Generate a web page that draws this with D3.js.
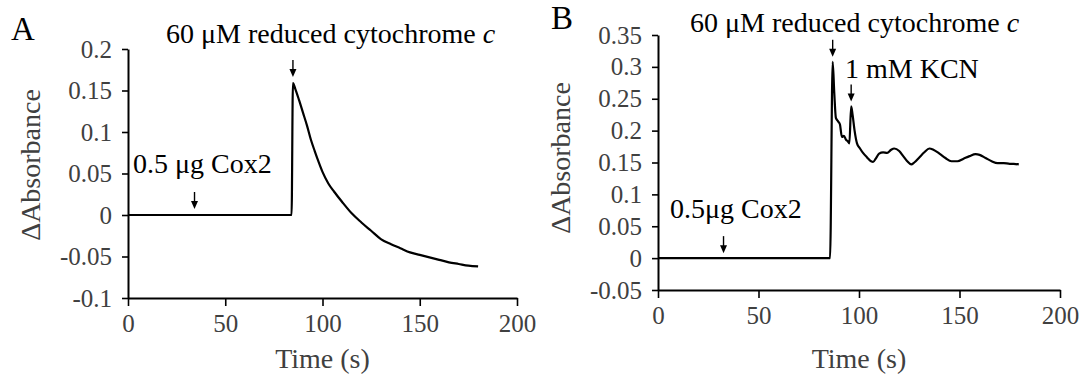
<!DOCTYPE html>
<html>
<head>
<meta charset="utf-8">
<script src="https://cdn.jsdelivr.net/npm/d3@7"></script>
<style>
  body { margin: 0; background: #fff; }
  svg { display: block; }
  text { font-family: "Liberation Serif", "Times New Roman", serif; }
</style>
</head>
<body>
<div id="chart"></div>
<script>
// Panel A: 0.5 ug Cox2, then 60 uM reduced cytochrome c
const timeA = [0, 20, 40, 60, 84.1, 84.8, 86, 88, 90, 92, 94, 96, 98, 100, 103, 106, 110, 115, 120, 125, 130, 135, 140, 145, 150, 155, 160, 165, 170, 175, 180];
const absA = [0, 0, 0, 0, 0, 0.159, 0.152, 0.138, 0.123, 0.108, 0.091, 0.077, 0.064, 0.052, 0.038, 0.028, 0.016, 0.002, -0.009, -0.019, -0.029, -0.035, -0.040, -0.045, -0.048, -0.051, -0.054, -0.057, -0.059, -0.061, -0.062];

// Panel B: same, with 1 mM KCN added
const timeB = [0, 20, 40, 60, 85.6, 86.9, 87.7, 88.5, 89.5, 90.5, 91.5, 92.5, 93.5, 94.5, 95.2, 96.1, 96.8, 97.8, 99, 100.5, 102, 104, 106, 107, 108.5, 110, 112, 114, 116, 117.5, 120, 122, 124, 126, 127.5, 130, 132.5, 135, 137, 140, 143, 146, 149, 152, 155, 158, 160, 163, 166, 169, 172, 175, 177, 179.5];
const absB = [0, 0, 0, 0, 0, 0.308, 0.259, 0.220, 0.215, 0.210, 0.190, 0.192, 0.186, 0.183, 0.180, 0.238, 0.225, 0.200, 0.180, 0.172, 0.165, 0.158, 0.152, 0.151, 0.157, 0.164, 0.166, 0.165, 0.170, 0.172, 0.168, 0.160, 0.152, 0.147, 0.150, 0.158, 0.166, 0.172, 0.170, 0.164, 0.157, 0.152, 0.152, 0.156, 0.160, 0.163, 0.162, 0.157, 0.152, 0.149, 0.149, 0.148, 0.148, 0.147];

const xTicks = [0, 50, 100, 150, 200];
const yTicksA = [-0.1, -0.05, 0, 0.05, 0.1, 0.15, 0.2];
const yTicksB = [-0.05, 0, 0.05, 0.1, 0.15, 0.2, 0.25, 0.3, 0.35];

// arrows: time of addition and value of the trace under it
const arrowsA = [{ t: 34.2, v: 0 }, { t: 84.8, v: 0.159 }];
const arrowsB = [{ t: 32.6, v: 0 }, { t: 86.9, v: 0.308 }, { t: 96.1, v: 0.238 }];

const width = 1080;
const height = 376;
const tickColor = "#404040";
const serif = "'Liberation Serif', 'Times New Roman', serif";

const svg = d3.select("#chart").append("svg")
  .attr("width", width)
  .attr("height", height);

svg.append("rect")
  .attr("width", width)
  .attr("height", height)
  .attr("fill", "#fff");

function drawPanel(cfg) {
  const x = d3.scaleLinear().domain([0, 200]).range([cfg.left, cfg.right]);
  const y = d3.scaleLinear().domain(cfg.yDomain).range([cfg.bottom, cfg.top]);
  const g = svg.append("g");

  const yAxis = g.append("g")
    .attr("transform", "translate(" + cfg.left + ",0)")
    .call(d3.axisLeft(y)
      .tickValues(cfg.yTicks)
      .tickSize(6)
      .tickSizeOuter(0)
      .tickPadding(10)
      .tickFormat(d => String(d)));

  const xAxis = g.append("g")
    .attr("transform", "translate(0," + cfg.bottom + ")")
    .call(d3.axisBottom(x)
      .tickValues(xTicks)
      .tickSize(8)
      .tickSizeOuter(0)
      .tickPadding(8)
      .tickFormat(d => String(d)));

  [xAxis, yAxis].forEach(a => {
    a.attr("font-family", null);
    a.select(".domain").attr("stroke", "#000").attr("stroke-width", 2);
    a.selectAll(".tick line").attr("stroke", "#000").attr("stroke-width", 1.6);
    a.selectAll(".tick text")
      .attr("fill", tickColor)
      .style("font-family", serif)
      .style("font-size", "25px");
  });

  // trace
  const line = d3.line()
    .x(i => x(cfg.time[i]))
    .y(i => y(cfg.abs[i]))
    .curve(d3.curveMonotoneX);

  g.append("path")
    .attr("d", line(d3.range(cfg.time.length)))
    .attr("fill", "none")
    .attr("stroke", "#000")
    .attr("stroke-width", 2.2)
    .attr("stroke-linejoin", "round");

  // arrows pointing at additions
  cfg.arrows.forEach(a => {
    const ax = x(a.t);
    const tip = y(a.v) - cfg.arrowGap;
    g.append("line")
      .attr("x1", ax).attr("x2", ax)
      .attr("y1", tip - 17).attr("y2", tip - 6)
      .attr("stroke", "#000")
      .attr("stroke-width", 1.4);
    g.append("path")
      .attr("d", `M${ax - 3.5},${tip - 8}L${ax + 3.5},${tip - 8}L${ax},${tip}Z`)
      .attr("fill", "#000");
  });

  // axis titles
  g.append("text")
    .attr("x", (cfg.left + cfg.right) / 2)
    .attr("y", 368)
    .attr("text-anchor", "middle")
    .attr("fill", tickColor)
    .style("font-size", "28px")
    .text("Time (s)");

  g.append("text")
    .attr("transform", `translate(${cfg.left - 88},${cfg.titleY}) rotate(-90)`)
    .attr("text-anchor", "middle")
    .attr("fill", tickColor)
    .style("font-size", "28px")
    .text("\u0394Absorbance");

  // panel letter
  g.append("text")
    .attr("x", cfg.letterX)
    .attr("y", cfg.letterY)
    .style("font-size", "33px")
    .text(cfg.letter);

  return { x, y, g };
}

function label(g, px, py, parts) {
  const t = g.append("text")
    .attr("x", px)
    .attr("y", py)
    .attr("fill", "#000")
    .style("font-size", "28px");
  parts.forEach(p => {
    t.append("tspan")
      .style("font-style", p.italic ? "italic" : "normal")
      .text(p.text);
  });
}

const panelA = drawPanel({
  left: 128, right: 517, top: 49, bottom: 298,
  yDomain: [-0.1, 0.2], yTicks: yTicksA,
  time: timeA, abs: absA, arrows: arrowsA, arrowGap: 6,
  titleY: 165, letter: "A", letterX: 11, letterY: 40
});
label(panelA.g, 166, 43, [{ text: "60 \u03bcM reduced cytochrome " }, { text: "c", italic: true }]);
label(panelA.g, 133, 173, [{ text: "0.5 \u03bcg Cox2" }]);

const panelB = drawPanel({
  left: 658, right: 1060, top: 35, bottom: 290,
  yDomain: [-0.05, 0.35], yTicks: yTicksB,
  time: timeB, abs: absB, arrows: arrowsB, arrowGap: 5,
  titleY: 158, letter: "B", letterX: 551, letterY: 29
});
label(panelB.g, 690, 32, [{ text: "60 \u03bcM reduced cytochrome " }, { text: "c", italic: true }]);
label(panelB.g, 845, 78, [{ text: "1 mM KCN" }]);
label(panelB.g, 670, 218, [{ text: "0.5\u03bcg Cox2" }]);
</script>
</body>
</html>
